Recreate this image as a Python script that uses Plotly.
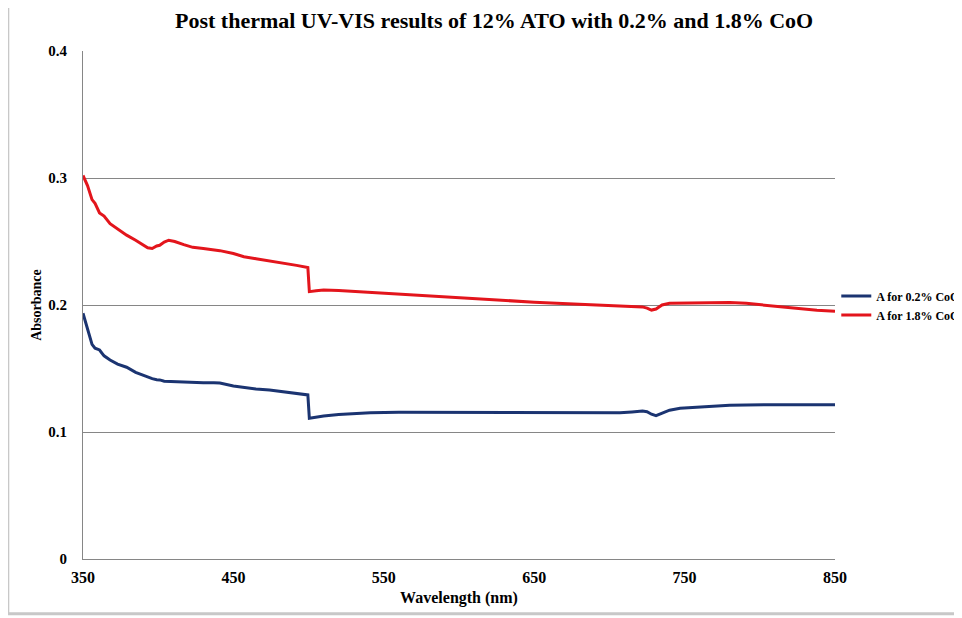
import plotly.graph_objects as go

# wavelength (nm) and absorbance
wavelength = [350, 353, 356, 358, 361, 364, 368, 373, 379, 385, 390, 393, 396, 399,
              401, 404, 407, 411, 417, 423, 430, 437, 441, 450, 457, 465, 474, 483,
              492, 499.5, 500.5, 505, 510, 520, 541, 560, 580, 600, 625, 650, 680,
              707, 715, 722, 725, 728, 731, 735, 740, 747, 760, 769, 780, 791, 802,
              813, 825, 838, 850]

abs_02 = [0.1935, 0.181, 0.169, 0.166, 0.1646, 0.160, 0.1567, 0.1535, 0.151, 0.147,
          0.1445, 0.1430, 0.1420, 0.1412, 0.1410, 0.1400, 0.1398, 0.1396, 0.1393,
          0.1390, 0.1388, 0.1388, 0.1385, 0.1362, 0.1350, 0.1338, 0.1331, 0.1318,
          0.1305, 0.1292, 0.1108, 0.1118, 0.1126, 0.1138, 0.1152, 0.1155, 0.1155,
          0.1156, 0.1157, 0.1157, 0.1155, 0.1152, 0.1158, 0.1165, 0.1160, 0.1140,
          0.1128, 0.1150, 0.1172, 0.1187, 0.1198, 0.1205, 0.1210, 0.1213, 0.1215,
          0.1215, 0.1215, 0.1215, 0.1215]

abs_18 = [0.302, 0.294, 0.283, 0.280, 0.2725, 0.270, 0.264, 0.260, 0.255, 0.251,
          0.247, 0.245, 0.2445, 0.2465, 0.2470, 0.2495, 0.2510, 0.2500, 0.2475,
          0.2454, 0.2445, 0.2435, 0.2428, 0.2405, 0.2380, 0.2365, 0.2349, 0.2330,
          0.2312, 0.2295, 0.2105, 0.2112, 0.2118, 0.2115, 0.2100, 0.2085, 0.2068,
          0.2055, 0.2038, 0.2022, 0.2005, 0.1992, 0.1990, 0.1985, 0.1975, 0.1960,
          0.1968, 0.2000, 0.2013, 0.2015, 0.2018, 0.2021, 0.2020, 0.2013, 0.2000,
          0.1982, 0.1968, 0.1958, 0.195]

series_names = ["A for 0.2% CoO", "A for 1.8% CoO"]
x_ticks = [350, 450, 550, 650, 750, 850]
y_ticks = [0, 0.1, 0.2, 0.3, 0.4]

serif = "Liberation Serif"

fig = go.Figure()
fig.add_trace(go.Scatter(x=wavelength, y=abs_02, name=series_names[0], mode="lines",
                         line=dict(color="#1b3471", width=3)))
fig.add_trace(go.Scatter(x=wavelength, y=abs_18, name=series_names[1], mode="lines",
                         line=dict(color="#e3151c", width=3)))

# page body has an 8px margin, so everything is placed 8px up/left of the target
fig.update_layout(
    width=962, height=618,
    margin=dict(l=75, r=135, t=43, b=67),
    paper_bgcolor="white", plot_bgcolor="white",
    font=dict(family=serif, color="black"),
    showlegend=True,
    legend=dict(xref="container", yref="container", x=0.861, y=0.5186,
                xanchor="left", yanchor="middle",
                font=dict(family=serif, size=12, color="black", weight="bold"),
                tracegroupgap=0, itemwidth=30, bgcolor="rgba(0,0,0,0)"),
    annotations=[
        dict(text="<b>Post thermal UV-VIS results of 12% ATO with 0.2% and 1.8% CoO</b>",
             x=0.5465, y=1.0, xref="paper", yref="paper",
             yanchor="bottom", yshift=16, showarrow=False,
             font=dict(family=serif, size=22, color="black")),
    ],
    shapes=[
        dict(type="rect", xref="paper", yref="paper",
             x0=-0.1, x1=1.3, y0=-0.108, y1=1.3,
             line=dict(color="#c8c8c8", width=3), layer="below"),
    ],
)

fig.update_xaxes(range=[350, 850], tickvals=x_ticks, ticks="", showgrid=False,
                 showline=True, linecolor="#868686", linewidth=1, zeroline=False,
                 automargin=False,
                 tickfont=dict(family=serif, size=16, weight="bold"), ticklabelstandoff=4,
                 title=dict(text="<b>Wavelength (nm)</b>", standoff=6,
                            font=dict(family=serif, size=16)))
fig.update_yaxes(range=[0, 0.4], tickvals=y_ticks, ticktext=["0", "0.1", "0.2", "0.3", "0.4"],
                 ticks="", showgrid=True, gridcolor="#868686", gridwidth=1,
                 showline=True, linecolor="#868686", linewidth=1, zeroline=False,
                 automargin=False,
                 tickfont=dict(family=serif, size=15, weight="bold"), ticklabelstandoff=12,
                 title=dict(text="<b>Absorbance</b>", standoff=3,
                            font=dict(family=serif, size=14)))

fig.write_html("out.html")
